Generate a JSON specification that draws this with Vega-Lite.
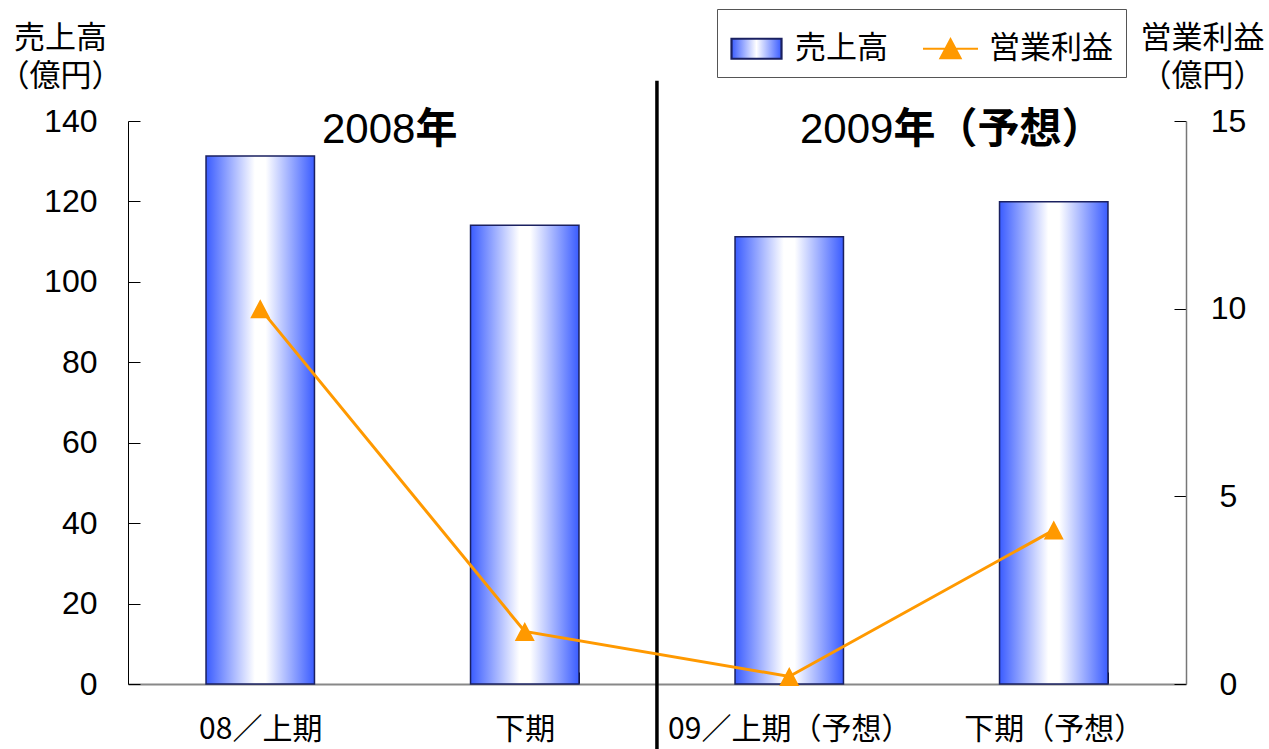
{
  "$schema": "https://vega.github.io/schema/vega-lite/v6.json",
  "width": 1058,
  "height": 563,
  "autosize": {"type": "none"},
  "padding": {"left": 128, "top": 121, "right": 83, "bottom": 65},
  "background": "white",
  "config": {
    "view": {"stroke": null}, "font": "Noto Sans CJK JP", "axis": {"grid": false},
    "legend": {"orient": "none", "legendX": 589, "legendY": -112, "direction": "horizontal",
      "strokeColor": "#555", "fillColor": "#fff", "padding": 13, "labelFontSize": 31, "labelColor": "#000",
      "symbolSize": 2500, "symbolStrokeWidth": 2.2, "symbolOpacity": 1, "labelOffset": 12, "columnPadding": 30}
  },
  "data": {"values": [
    {"cat": "08／上期", "sales": 131.3, "profit": 10.0},
    {"cat": "下期", "sales": 114.1, "profit": 1.4},
    {"cat": "09／上期（予想）", "sales": 111.2, "profit": 0.2},
    {"cat": "下期（予想）", "sales": 119.9, "profit": 4.1}
  ]},
  "resolve": {"scale": {"y": "independent"}},
  "layer": [
    {
      "mark": {"type": "bar", "strokeWidth": 1.5,
        "fill": {"gradient": "linear", "x1": 0, "x2": 1, "y1": 0, "y2": 0,
          "stops": [
            {"offset": 0, "color": "#3a5cff"},
            {"offset": 0.45, "color": "#ffffff"},
            {"offset": 0.55, "color": "#ffffff"},
            {"offset": 1, "color": "#3a5cff"}
          ]}},
      "encoding": {
        "x": {"field": "cat", "type": "nominal", "sort": null,
          "scale": {"domain": ["08／上期", "下期", "09／上期（予想）", "下期（予想）"], "paddingInner": 0.59, "paddingOuter": 0.295},
          "axis": {"title": null, "labelAngle": 0, "labelFontSize": 30, "labelColor": "#000", "labelPadding": 42, "labelLimit": 0,
            "domainColor": "#888", "domainWidth": 2, "tickBand": "extent", "tickSize": -12, "tickColor": "#000", "tickWidth": 1}},
        "y": {"field": "sales", "type": "quantitative",
          "scale": {"domain": [0, 140], "nice": false},
          "axis": {"orient": "left", "values": [0, 20, 40, 60, 80, 100, 120, 140], "labelFont": "Liberation Sans", "labelFontSize": 32, "labelColor": "#000",
            "tickSize": -12, "tickColor": "#000", "domainColor": "#000", "domainWidth": 1, "labelPadding": 43,
            "title": ["売上高", "（億円）"], "titleAngle": 0, "titleFontSize": 31, "titleFontWeight": "normal",
            "titleAlign": "center", "titleBaseline": "top", "titleX": -68, "titleY": -98, "titleLineHeight": 38, "titleColor": "#000"}},
        "stroke": {"datum": "売上高", "type": "nominal",
          "scale": {"domain": ["売上高", "営業利益"], "range": ["#1a2060", "#FF9900"]},
          "legend": {"title": null}}
      }
    },
    {
      "data": {"values": [{"cat": "09／上期（予想）", "lo": -16.5, "hi": 150}]},
      "mark": {"type": "rule", "color": "#000", "strokeWidth": 3.5},
      "encoding": {
        "x": {"field": "cat", "type": "nominal", "bandPosition": -0.72, "axis": {"title": null}},
        "y": {"field": "lo", "type": "quantitative", "scale": {"domain": [0, 140], "nice": false}, "axis": null},
        "y2": {"field": "hi"}
      }
    },
    {
      "data": {"values": [{"cat": "下期", "yv": 137.8, "t": "2008"}]},
      "mark": {"type": "text", "font": "Liberation Sans", "fontSize": 42, "align": "right", "baseline": "middle", "dx": 23, "color": "#000"},
      "encoding": {
        "x": {"field": "cat", "type": "nominal", "bandPosition": -0.72, "axis": {"title": null}},
        "y": {"field": "yv", "type": "quantitative", "scale": {"domain": [0, 140], "nice": false}, "axis": null},
        "text": {"field": "t"}
      }
    },
    {
      "data": {"values": [{"cat": "下期", "yv": 137.8, "t": "年"}]},
      "mark": {"type": "text", "fontSize": 42, "fontWeight": "bold", "align": "left", "baseline": "middle", "dx": 23, "color": "#000"},
      "encoding": {
        "x": {"field": "cat", "type": "nominal", "bandPosition": -0.72, "axis": {"title": null}},
        "y": {"field": "yv", "type": "quantitative", "scale": {"domain": [0, 140], "nice": false}, "axis": null},
        "text": {"field": "t"}
      }
    },
    {
      "data": {"values": [{"cat": "下期（予想）", "yv": 137.8, "t": "2009"}]},
      "mark": {"type": "text", "font": "Liberation Sans", "fontSize": 42, "align": "right", "baseline": "middle", "dx": -28, "color": "#000"},
      "encoding": {
        "x": {"field": "cat", "type": "nominal", "bandPosition": -0.72, "axis": {"title": null}},
        "y": {"field": "yv", "type": "quantitative", "scale": {"domain": [0, 140], "nice": false}, "axis": null},
        "text": {"field": "t"}
      }
    },
    {
      "data": {"values": [{"cat": "下期（予想）", "yv": 137.8, "t": "年（予想）"}]},
      "mark": {"type": "text", "fontSize": 42, "fontWeight": "bold", "align": "left", "baseline": "middle", "dx": -28, "color": "#000"},
      "encoding": {
        "x": {"field": "cat", "type": "nominal", "bandPosition": -0.72, "axis": {"title": null}},
        "y": {"field": "yv", "type": "quantitative", "scale": {"domain": [0, 140], "nice": false}, "axis": null},
        "text": {"field": "t"}
      }
    },
    {
      "mark": {"type": "line", "strokeWidth": 3},
      "encoding": {
        "x": {"field": "cat", "type": "nominal", "sort": null, "axis": {"title": null}},
        "y": {"field": "profit", "type": "quantitative",
          "scale": {"domain": [0, 15], "nice": false},
          "axis": {"orient": "right", "values": [0, 5, 10, 15], "labelFont": "Liberation Sans", "labelFontSize": 32, "labelColor": "#000",
            "tickSize": -12, "tickColor": "#000", "domainColor": "#777", "domainWidth": 1.5, "labelPadding": 54, "labelAlign": "center",
            "title": ["営業利益", "（億円）"], "titleAngle": 0, "titleFontSize": 31, "titleFontWeight": "normal",
            "titleAlign": "center", "titleBaseline": "top", "titleX": 16, "titleY": -98, "titleLineHeight": 38, "titleColor": "#000"}},
        "stroke": {"datum": "営業利益", "type": "nominal", "scale": {"domain": ["売上高", "営業利益"]}, "legend": {"title": null}}
      }
    },
    {
      "mark": {"type": "point", "filled": true, "strokeWidth": 0, "size": 2500, "opacity": 1},
      "encoding": {
        "x": {"field": "cat", "type": "nominal", "sort": null, "axis": {"title": null}},
        "y": {"field": "profit", "type": "quantitative", "scale": {"domain": [0, 15], "nice": false}, "axis": null},
        "shape": {"datum": "営業利益", "type": "nominal",
          "scale": {"domain": ["売上高", "営業利益"], "range": ["M-1,-0.4H1V0.4H-1Z", "M-1.1,0H1.1M-0.4,0.38L0,-0.38L0.4,0.38Z"]},
          "legend": {"title": null}},
        "fill": {"datum": "営業利益", "type": "nominal",
          "scale": {"domain": ["売上高", "営業利益"], "range": [
            {"expr": "{gradient: 'linear', x1: 0, x2: 1, y1: 0, y2: 0, stops: [{offset: 0, color: '#3a5cff'}, {offset: 0.5, color: '#ffffff'}, {offset: 1, color: '#3a5cff'}]}"},
            "#FF9900"]},
          "legend": {"title": null}}
      }
    }
  ]
}
